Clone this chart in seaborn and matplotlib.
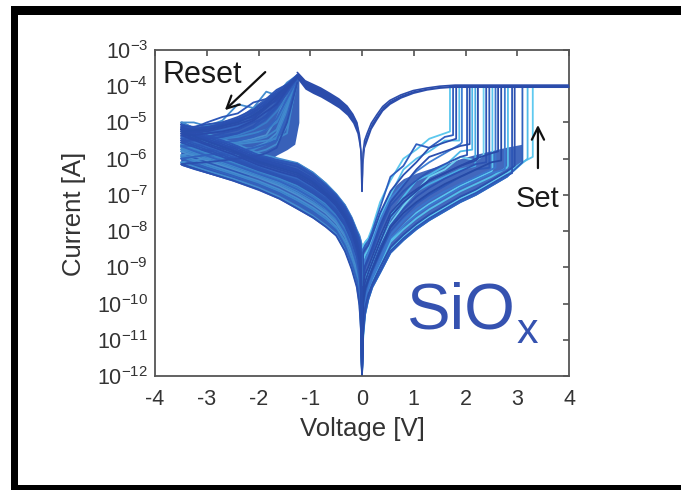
import numpy as np
import pandas as pd
import matplotlib
matplotlib.use("Agg")
import matplotlib.pyplot as plt
import seaborn as sns
from matplotlib.patches import Rectangle
from matplotlib.colors import to_rgb
from matplotlib.ticker import FixedLocator, NullLocator, LogFormatterSciNotation

# ---------------- data (log10 of current in A) ----------------
# positive HRS sweep voltage grid
VP = [0.0, 0.02, 0.06, 0.12, 0.2, 0.35, 0.55, 0.8, 1.05, 1.3, 1.6, 1.9, 2.2, 2.5, 2.8, 3.1, 3.35]
# set voltage of each cycle
VSET = [1.70, 1.82, 1.93, 2.03, 2.13, 2.24, 2.35, 2.46, 2.58, 2.69, 2.82, 2.95, 3.10, 3.30,
        1.76, 1.88, 2.08, 2.19, 2.40, 2.52, 2.63, 2.76, 2.90, 3.20]
# HRS current before set (values at VP points below VSET, last value at VSET)
HRS_POS = [
    [-12, -8.4, -8.3, -8.2, -7.9, -7.2, -6.6, -6.0, -5.75, -5.45, -5.3, -5.25],
    [-12, -8.6, -8.5, -8.4, -8.1, -7.5, -6.9, -6.45, -6.1, -5.7, -5.55, -5.45],
    [-12, -9.0, -8.8, -8.6, -8.3, -7.7, -7.1, -6.7, -6.35, -6.1, -5.85, -5.6, -5.55],
    [-12, -9.3, -9.0, -8.8, -8.55, -7.95, -7.3, -6.9, -6.6, -6.35, -6.15, -5.95, -5.9],
    [-12, -9.6, -9.3, -9.05, -8.75, -8.2, -7.55, -7.05, -6.6, -6.45, -6.2, -5.8, -5.75],
    [-12, -9.5, -9.2, -9.0, -8.7, -8.15, -7.5, -7.1, -6.85, -6.6, -6.4, -6.2, -6.05, -6.0],
    [-12, -9.8, -9.5, -9.25, -8.95, -8.4, -7.8, -7.3, -6.9, -6.5, -6.3, -5.95, -6.05, -5.9],
    [-12, -10.1, -9.7, -9.4, -9.1, -8.6, -8.0, -7.6, -7.25, -7.0, -6.75, -6.5, -6.3, -6.25],
    [-12, -10.2, -9.8, -9.5, -9.2, -8.75, -8.1, -7.7, -7.4, -7.15, -6.9, -6.7, -6.5, -6.3, -6.25],
    [-12, -10.0, -9.6, -9.35, -9.05, -8.55, -7.9, -7.5, -7.2, -6.95, -6.7, -6.5, -6.3, -6.1, -6.05],
    [-12, -10.5, -10.0, -9.65, -9.35, -8.9, -8.3, -7.95, -7.65, -7.4, -7.15, -6.9, -6.7, -6.5, -6.25, -6.2],
    [-12, -10.7, -10.1, -9.75, -9.45, -9.0, -8.45, -8.1, -7.8, -7.55, -7.3, -7.05, -6.85, -6.6, -6.35, -6.2],
    [-12, -10.9, -10.3, -9.9, -9.55, -9.15, -8.6, -8.25, -7.95, -7.7, -7.45, -7.2, -7.0, -6.75, -6.5, -6.1],
    [-12, -10.6, -10.1, -9.8, -9.5, -9.05, -8.5, -8.15, -7.85, -7.6, -7.35, -7.1, -6.9, -6.65, -6.4, -6.1, -5.95],
    [-12, -8.5, -8.4, -8.3, -8.0, -7.35, -6.5, -6.2, -5.6, -5.7, -5.4, -5.35],
    [-12, -8.8, -8.65, -8.5, -8.2, -7.6, -7.0, -6.3, -6.0, -5.8, -5.5, -5.5],
    [-12, -9.2, -8.95, -8.75, -8.45, -7.85, -7.2, -6.75, -6.3, -5.95, -5.8, -5.65, -5.6],
    [-12, -9.7, -9.4, -9.15, -8.85, -8.3, -7.65, -7.2, -6.9, -6.7, -6.5, -6.3, -6.2],
    [-12, -9.9, -9.55, -9.3, -9.0, -8.45, -7.85, -7.4, -7.05, -6.8, -6.55, -6.35, -6.15, -6.1],
    [-12, -10.3, -9.9, -9.6, -9.3, -8.85, -8.25, -7.85, -7.5, -7.25, -7.0, -6.75, -6.55, -6.35, -6.3],
    [-12, -9.7, -9.4, -9.15, -8.85, -8.3, -7.6, -7.2, -6.9, -6.6, -6.4, -6.2, -6.0, -5.85, -5.8],
    [-12, -10.4, -9.95, -9.6, -9.3, -8.85, -8.2, -7.85, -7.55, -7.3, -7.05, -6.8, -6.6, -6.4, -6.3],
    [-12, -10.8, -10.2, -9.85, -9.5, -9.1, -8.55, -8.2, -7.9, -7.65, -7.4, -7.15, -6.95, -6.7, -6.45, -6.4],
    [-12, -11.0, -10.3, -9.9, -9.55, -9.15, -8.6, -8.25, -7.95, -7.7, -7.45, -7.2, -7.0, -6.75, -6.5, -6.12, -6.0],
]
COMPLIANCE = -4.0
V_MAX = 4.0

# reset sweep (negative side, from LRS peak down to -3.5 V)
VR = [-1.25, -1.45, -1.65, -1.85, -2.1, -2.4, -2.7, -3.0, -3.25, -3.5]
RESET = [
    [-3.7, -3.9, -4.25, -4.15, -4.6, -4.5, -4.95, -5.1, -5.0, -5.0],
    [-3.75, -4.0, -4.3, -4.5, -4.7, -4.95, -5.05, -5.15, -5.2, -5.2],
    [-3.7, -4.1, -4.6, -4.75, -4.85, -5.1, -5.2, -5.3, -5.35, -5.4],
    [-3.72, -3.95, -4.15, -4.4, -4.65, -4.85, -5.0, -5.05, -5.12, -5.1],
    [-3.8, -4.4, -5.0, -5.2, -5.3, -5.4, -5.45, -5.5, -5.55, -5.6],
    [-3.75, -4.05, -4.35, -4.6, -4.9, -5.05, -5.15, -5.25, -5.28, -5.3],
    [-3.7, -4.2, -4.9, -5.35, -5.45, -5.55, -5.65, -5.7, -5.75, -5.8],
    [-3.78, -4.1, -4.45, -4.8, -5.1, -5.3, -5.4, -5.45, -5.5, -5.5],
    [-3.85, -4.8, -5.5, -5.6, -5.7, -5.8, -5.85, -5.9, -5.95, -6.0],
    [-3.72, -4.0, -4.25, -4.55, -4.8, -5.0, -5.1, -5.2, -5.22, -5.25],
    [-3.8, -4.5, -5.2, -5.4, -5.5, -5.55, -5.6, -5.65, -5.68, -5.7],
    [-3.9, -5.0, -5.7, -5.85, -5.95, -6.0, -6.05, -6.1, -6.12, -6.15],
    [-3.75, -4.2, -4.6, -4.9, -5.15, -5.3, -5.35, -5.4, -5.42, -5.45],
    [-3.82, -4.6, -5.3, -5.55, -5.7, -5.75, -5.8, -5.85, -5.88, -5.9],
    [-3.68, -3.95, -4.1, -4.35, -4.45, -4.75, -4.85, -5.0, -5.15, -5.05],
    [-3.7, -5.3, -5.45, -5.5, -5.55, -5.6, -5.65, -5.7, -5.72, -5.75],
    [-3.76, -4.05, -4.4, -4.55, -4.85, -4.95, -5.1, -5.2, -5.25, -5.15],
    [-3.8, -4.3, -4.7, -5.0, -5.2, -5.35, -5.45, -5.55, -5.6, -5.65],
    [-3.74, -4.0, -4.2, -4.45, -4.75, -4.9, -5.05, -5.12, -5.18, -5.2],
    [-3.9, -5.1, -5.6, -5.75, -5.85, -5.9, -5.95, -6.0, -6.05, -6.1],
    [-3.72, -4.1, -4.5, -4.7, -4.95, -5.15, -5.25, -5.3, -5.35, -5.35],
    [-3.8, -4.35, -4.9, -5.2, -5.4, -5.5, -5.55, -5.6, -5.65, -5.65],
    [-3.75, -4.15, -4.55, -4.85, -5.0, -5.2, -5.3, -5.4, -5.45, -5.55],
    [-3.85, -4.7, -5.4, -5.6, -5.75, -5.8, -5.85, -5.9, -5.95, -5.95],
]

# HRS return sweep from -3.5 V back to 0 V
VN = [-3.5, -3.0, -2.5, -2.0, -1.6, -1.25, -0.95, -0.7, -0.5, -0.33, -0.2, -0.1, -0.05, -0.02, 0.0]
HRS_NEG = [
    [-5.0, -5.3, -5.55, -5.85, -6.0, -6.12, -6.38, -6.68, -6.97, -7.28, -7.62, -7.97, -8.12, -8.28, -9.5],
    [-5.2, -5.5, -5.75, -6.05, -6.2, -6.35, -6.6, -6.9, -7.15, -7.5, -7.85, -8.25, -8.5, -8.9, -10.5],
    [-5.4, -5.65, -5.9, -6.2, -6.4, -6.55, -6.8, -7.05, -7.35, -7.7, -8.1, -8.55, -8.9, -9.4, -11.0],
    [-5.1, -5.4, -5.65, -5.95, -6.1, -6.22, -6.48, -6.78, -7.05, -7.38, -7.72, -8.1, -8.3, -8.6, -12],
    [-5.6, -5.85, -6.1, -6.35, -6.55, -6.75, -7.0, -7.25, -7.55, -7.9, -8.35, -8.8, -9.2, -9.8, -12],
    [-5.3, -5.58, -5.82, -6.12, -6.3, -6.45, -6.7, -6.98, -7.25, -7.6, -7.97, -8.4, -8.7, -9.1, -10.0],
    [-5.8, -6.05, -6.28, -6.52, -6.75, -7.0, -7.25, -7.5, -7.78, -8.15, -8.6, -9.05, -9.5, -10.1, -12],
    [-5.5, -5.75, -6.0, -6.28, -6.48, -6.65, -6.9, -7.15, -7.45, -7.8, -8.2, -8.65, -9.0, -9.6, -11.5],
    [-6.0, -6.25, -6.48, -6.72, -6.95, -7.22, -7.48, -7.72, -7.98, -8.4, -8.88, -9.35, -9.85, -10.5, -12],
    [-5.25, -5.52, -5.78, -6.08, -6.25, -6.4, -6.65, -6.95, -7.2, -7.55, -7.9, -8.3, -8.6, -9.0, -12],
    [-5.7, -5.95, -6.2, -6.45, -6.65, -6.88, -7.12, -7.38, -7.65, -8.05, -8.48, -8.95, -9.35, -9.95, -12],
    [-6.15, -6.38, -6.6, -6.85, -7.1, -7.38, -7.62, -7.88, -8.12, -8.55, -9.05, -9.55, -10.05, -10.75, -12],
    [-5.45, -5.7, -5.95, -6.25, -6.45, -6.6, -6.85, -7.1, -7.4, -7.75, -8.15, -8.6, -8.95, -9.5, -12],
    [-5.9, -6.15, -6.38, -6.62, -6.85, -7.1, -7.35, -7.6, -7.88, -8.28, -8.75, -9.2, -9.7, -10.3, -12],
    [-5.05, -5.35, -5.6, -5.9, -6.05, -6.15, -6.42, -6.72, -7.0, -7.32, -7.66, -8.02, -8.2, -8.4, -12],
    [-5.75, -6.0, -6.25, -6.5, -6.7, -6.95, -7.2, -7.45, -7.72, -8.1, -8.55, -9.0, -9.4, -10.0, -12],
    [-5.15, -5.45, -5.7, -6.0, -6.15, -6.3, -6.55, -6.85, -7.1, -7.45, -7.8, -8.2, -8.45, -8.8, -11.0],
    [-5.65, -5.9, -6.15, -6.4, -6.6, -6.82, -7.06, -7.32, -7.6, -7.98, -8.42, -8.88, -9.3, -9.9, -12],
    [-5.2, -5.5, -5.75, -6.05, -6.2, -6.35, -6.62, -6.92, -7.18, -7.52, -7.88, -8.28, -8.55, -8.95, -12],
    [-6.1, -6.33, -6.55, -6.8, -7.05, -7.32, -7.58, -7.84, -8.08, -8.5, -9.0, -9.5, -10.0, -10.7, -12],
    [-5.35, -5.62, -5.88, -6.18, -6.36, -6.5, -6.76, -7.02, -7.3, -7.66, -8.05, -8.5, -8.82, -9.3, -12],
    [-5.65, -5.92, -6.16, -6.42, -6.62, -6.85, -7.1, -7.36, -7.63, -8.02, -8.45, -8.92, -9.32, -9.9, -12],
    [-5.55, -5.8, -6.05, -6.32, -6.5, -6.7, -6.95, -7.2, -7.5, -7.85, -8.28, -8.72, -9.1, -9.7, -12],
    [-5.95, -6.2, -6.42, -6.66, -6.9, -7.15, -7.4, -7.66, -7.93, -8.33, -8.8, -9.28, -9.75, -10.4, -12],
]
CYCLE_COLORS = ["#5cc8ee", "#2a4fb0", "#3f7fd4", "#2c55b5", "#4cb8e8", "#2a4aa8", "#6fd0f0",
                "#2d58b8", "#3a74cc", "#264aa6", "#54bfe9", "#2b50ae", "#3060bd", "#5fcaf0",
                "#2f5fc0", "#58c2ec", "#2a4fb0", "#47a9e2", "#2c52b2", "#5ac6ee", "#2849a8",
                "#3b78cf", "#2d56b6", "#4fbbe8"]

# LRS branches (all cycles overlap) : lower/upper edges of the bundle
VL_NEG = [-1.25, -1.1, -0.95, -0.8, -0.62, -0.45, -0.29, -0.18, -0.1, -0.05, -0.02, 0.0]
LRS_NEG_UP = [-3.62, -3.85, -3.95, -4.05, -4.2, -4.35, -4.55, -4.77, -5.0, -5.35, -5.8, -6.9]
LRS_NEG_LO = [-3.8, -4.08, -4.2, -4.3, -4.45, -4.6, -4.8, -5.02, -5.3, -5.7, -6.2, -6.9]
VL_POS = [0.0, 0.02, 0.05, 0.1, 0.18, 0.29, 0.4, 0.54, 0.75, 0.99, 1.25, 1.5, 1.8, 4.0]
LRS_POS_UP = [-6.9, -5.85, -5.5, -5.3, -5.02, -4.78, -4.56, -4.39, -4.24, -4.12, -4.05, -4.0, -3.97, -3.97]
LRS_POS_LO = [-6.9, -6.15, -5.7, -5.5, -5.18, -4.92, -4.68, -4.5, -4.33, -4.2, -4.11, -4.06, -4.03, -4.03]

# envelopes of the dense HRS bundles
POS_ENV_V = [0.0, 0.02, 0.06, 0.12, 0.2, 0.35, 0.55, 0.8, 1.05, 1.3, 1.6, 1.9, 2.2, 2.5, 2.8, 3.1]
POS_ENV_UP = [-12, -8.35, -8.25, -8.15, -8.05, -7.45, -6.85, -6.55, -6.4, -6.28, -6.15, -6.0, -5.88, -5.78, -5.68, -5.6]
POS_ENV_LO = [-12, -11.0, -10.3, -9.9, -9.55, -9.15, -8.6, -8.25, -7.95, -7.7, -7.45, -7.2, -7.0, -6.75, -6.5, -6.1]
RST_ENV_V = [-3.5, -3.25, -3.0, -2.7, -2.4, -2.1, -1.85, -1.65, -1.45, -1.3, -1.22]
RST_ENV_UP = [-4.95, -5.12, -5.05, -4.95, -4.85, -4.55, -4.3, -4.15, -3.95, -3.75, -3.68]
RST_ENV_LO = [-6.18, -6.3, -6.4, -6.52, -6.6, -6.4, -6.1, -5.9, -5.75, -5.6, -5.0]
NEG_ENV_UP = [-5.6, -5.7, -5.8, -5.9, -6.0, -6.1, -6.35, -6.65, -6.95, -7.25, -7.6, -7.95, -8.1, -8.25, -8.33]
NEG_ENV_LO = [-6.18, -6.4, -6.62, -6.88, -7.12, -7.4, -7.65, -7.9, -8.15, -8.6, -9.1, -9.6, -10.1, -10.8, -12]

X_TICKS = [-4, -3, -2, -1, 0, 1, 2, 3, 4]
Y_EXPONENTS = [-12, -11, -10, -9, -8, -7, -6, -5, -4, -3]

# ---------------- build long tables of cycle traces ----------------
pos_rows, neg_rows = [], []
for c in range(len(VSET)):
    name = f"c{c:02d}"
    vals = HRS_POS[c]
    n = len(vals) - 1
    xs = VP[:n] + [VSET[c], VSET[c]]
    ys = vals + [COMPLIANCE]
    for x, y in zip(xs, ys):
        pos_rows.append((name, x, 10.0 ** y))
    for x, y in zip(VR + VN, RESET[c] + HRS_NEG[c]):
        neg_rows.append((name, x, 10.0 ** y))
df_pos = pd.DataFrame(pos_rows, columns=["cycle", "V", "I"])
df_neg = pd.DataFrame(neg_rows, columns=["cycle", "V", "I"])

dark = np.array(to_rgb("#2a4fb0"))
palette = {f"c{c:02d}": CYCLE_COLORS[c] for c in range(len(VSET))}
# negative-bias traces appear darker in the dense bundle
palette_neg = {k: tuple(0.5 * np.array(to_rgb(v)) + 0.5 * dark) for k, v in palette.items()}
hue_order = sorted(palette, key=lambda k: -sum(to_rgb(palette[k])))

# ---------------- figure ----------------
sns.set_style("white")
plt.rcParams["font.family"] = ["Liberation Sans", "DejaVu Sans"]
plt.rcParams["mathtext.fontset"] = "custom"
plt.rcParams["mathtext.rm"] = "Liberation Sans"
plt.rcParams["axes.unicode_minus"] = False

W, H = 681, 490
fig = plt.figure(figsize=(W / 100, H / 100), dpi=100)
fig.patch.set_facecolor("white")
ax = fig.add_axes([155 / W, 1 - 376 / H, 414 / W, 326 / H])
ax.set_yscale("log")

band = "#2d58b6"
p10 = lambda a: 10.0 ** np.asarray(a, dtype=float)
ax.fill_between(POS_ENV_V, p10(POS_ENV_LO), p10(POS_ENV_UP), color=band, lw=0, alpha=0.9, zorder=1)
ax.fill_between(RST_ENV_V, p10(RST_ENV_LO), p10(RST_ENV_UP), color=band, lw=0, alpha=0.95, zorder=1)
ax.fill_between(VN, p10(NEG_ENV_LO), p10(NEG_ENV_UP), color=band, lw=0, alpha=0.95, zorder=1)

sns.lineplot(data=df_pos, x="V", y="I", hue="cycle", hue_order=hue_order, units="cycle",
             estimator=None, sort=False, palette=palette, legend=False, linewidth=1.3,
             ax=ax, zorder=2)
sns.lineplot(data=df_neg, x="V", y="I", hue="cycle", hue_order=hue_order, units="cycle",
             estimator=None, sort=False, palette=palette_neg, legend=False, linewidth=1.3,
             ax=ax, zorder=2)

lrs = "#2b4cab"
ax.fill_between(VL_NEG, p10(LRS_NEG_LO), p10(LRS_NEG_UP), color=lrs, lw=0, zorder=3)
ax.fill_between(VL_POS, p10(LRS_POS_LO), p10(LRS_POS_UP), color=lrs, lw=0, zorder=3)
ax.plot(VL_NEG, p10(LRS_NEG_UP), color=lrs, lw=1.2, zorder=3)
ax.plot(VL_POS, p10(LRS_POS_UP), color=lrs, lw=1.2, zorder=3)
ax.plot([min(VSET), V_MAX], p10([COMPLIANCE, COMPLIANCE]), color=lrs, lw=2.2, zorder=3)

ax.set_xlim(-4, 4)
ax.set_ylim(1e-12, 1e-3)
ax.xaxis.set_major_locator(FixedLocator(X_TICKS))
ax.yaxis.set_major_locator(FixedLocator([10.0 ** e for e in Y_EXPONENTS]))
ax.yaxis.set_minor_locator(NullLocator())
ax.yaxis.set_major_formatter(LogFormatterSciNotation())
ax.set_xlabel("")
ax.set_ylabel("")
ax.tick_params(axis="both", which="major", direction="in", top=True, right=True,
               length=4, width=1.1, color="#444444", labelcolor="#333333", labelsize=15.5)
ax.tick_params(axis="x", pad=9)
ax.tick_params(axis="y", pad=5)
for s in ax.spines.values():
    s.set_color("#555555")
    s.set_linewidth(1.3)
    s.set_visible(True)

# annotations
ax.text(-3.85, 10 ** -3.92, "Reset", fontsize=22, color="#1a1a1a", ha="left", va="baseline")
ax.annotate("", xy=(-2.65, 10 ** -4.66), xytext=(-1.87, 10 ** -3.61),
            arrowprops=dict(arrowstyle="->", lw=1.6, color="#111111", mutation_scale=22,
                            shrinkA=0, shrinkB=0))
ax.text(2.97, 10 ** -7.33, "Set", fontsize=21, color="#1a1a1a", ha="left", va="baseline")
ax.annotate("", xy=(3.40, 10 ** -5.07), xytext=(3.40, 10 ** -6.26),
            arrowprops=dict(arrowstyle="->", lw=1.6, color="#111111", mutation_scale=22,
                            shrinkA=0, shrinkB=0))
ax.text(0.87, 10 ** -10.68, "SiO", fontsize=47, color="#3552b0", ha="left", va="baseline")
ax.text(2.99, 10 ** -11.09, "x", fontsize=31, color="#3552b0", ha="left", va="baseline")

fig.text(81 / W, 1 - 214 / H, "Current [A]", rotation=90, rotation_mode="anchor",
         ha="center", va="baseline", fontsize=18.5, color="#333333")
fig.text(362 / W, 1 - 436 / H, "Voltage [V]", ha="center", va="baseline",
         fontsize=18.5, color="#333333")

# black frame of the original figure
def frame_band(x0, y0, x1, y1):
    fig.add_artist(Rectangle((x0 / W, 1 - y1 / H), (x1 - x0) / W, (y1 - y0) / H,
                             transform=fig.transFigure, color="black", lw=0, zorder=10))

frame_band(11, 6, W, 15)
frame_band(11, 6, 18, H)
frame_band(11, 485, W, H)

fig.savefig("out.png", dpi=100)
